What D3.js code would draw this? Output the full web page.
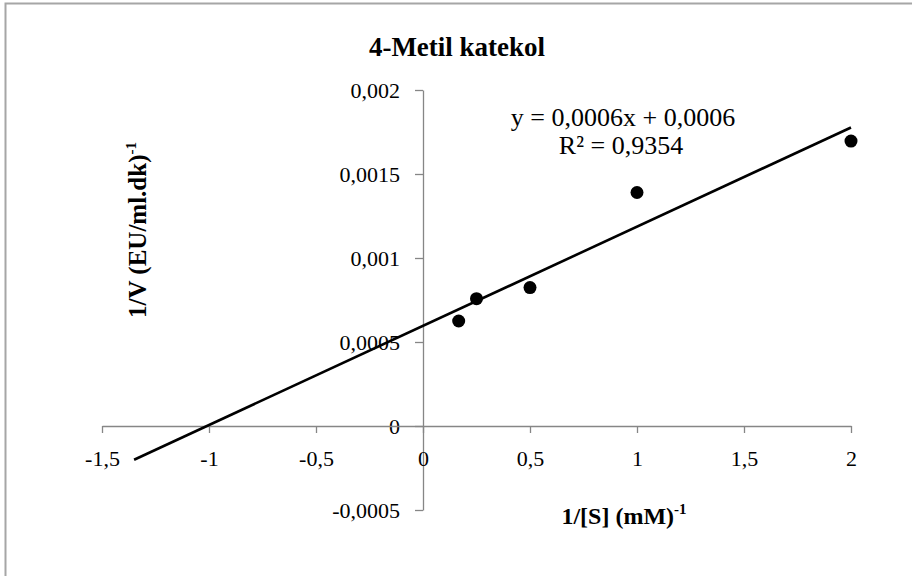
<!DOCTYPE html>
<html><head><meta charset="utf-8">
<script src="https://cdn.jsdelivr.net/npm/d3@7"></script>
<style>
body{margin:0;background:#fff;}
svg text{font-family:"Liberation Serif","Times New Roman",serif;fill:#000;}
</style></head>
<body><div id="chart"></div>
<script>
// Data
const xValues = [0.1667, 0.25, 0.5, 1, 2];
const yValues = [0.000625, 0.000758, 0.000824, 0.00139, 0.001696];
const xTicks = [-1.5, -1, -0.5, 0, 0.5, 1, 1.5, 2];
const yTicks = [-0.0005, 0, 0.0005, 0.001, 0.0015, 0.002];
const trendStart = -1.35;
const trendEnd = 2;
const title = "4-Metil katekol";
const eqLine1 = "y = 0,0006x + 0,0006";
const eqLine2 = "R² = 0,9354";
const xTitle = "1/[S] (mM)";
const yTitle = "1/V (EU/ml.dk)";
const titleSup = "-1";

const W = 912, H = 576;
const svg = d3.select("#chart").append("svg").attr("width", W).attr("height", H);

// chart border (extends beyond visible area on right/bottom)
svg.append("rect").attr("x", 5.5).attr("y", 3.5).attr("width", 960).attr("height", 620)
  .attr("fill", "none").attr("stroke", "#a6a6a6").attr("stroke-width", 2);

const x = d3.scaleLinear().domain([-1.5, 2]).range([102, 851]);
const y = d3.scaleLinear().domain([-0.0005, 0.002]).range([510, 90]);
const fmt = v => String(+v.toFixed(6)).replace(".", ",");
const axisColor = "#868686";

// Y axis at x=0
const gy = svg.append("g").attr("transform", `translate(${x(0)},0)`)
  .call(d3.axisLeft(y).tickValues(yTicks).tickSize(8).tickSizeOuter(0).tickFormat(fmt).tickPadding(15));
// X axis at y=0
const gx = svg.append("g").attr("transform", `translate(0,${y(0)})`)
  .call(d3.axisBottom(x).tickValues(xTicks).tickSize(7).tickSizeOuter(0).tickFormat(fmt).tickPadding(17));
[gx, gy].forEach(g => {
  g.select(".domain").attr("stroke", axisColor).attr("stroke-width", 1.3);
  g.selectAll(".tick line").attr("stroke", axisColor).attr("stroke-width", 1.3);
  g.selectAll(".tick text").attr("font-size", 22).attr("fill", "#000")
    .style("font-family", '"Liberation Serif","Times New Roman",serif');
});
gy.selectAll(".tick text").attr("dy", "0.32em");

// Trendline from least squares
const n = xValues.length;
const mx = d3.mean(xValues), my = d3.mean(yValues);
let sxy = 0, sxx = 0;
for (let i = 0; i < n; i++) { sxy += (xValues[i]-mx)*(yValues[i]-my); sxx += (xValues[i]-mx)**2; }
const slope = sxy/sxx, intercept = my - slope*mx;
const line = d3.line().x(d => x(d)).y(d => y(slope*d + intercept));
svg.append("path").datum([trendStart, trendEnd]).attr("d", line)
  .attr("stroke", "#000").attr("stroke-width", 2.6).attr("fill", "none");

// Points
svg.append("g").selectAll("circle").data(xValues).join("circle")
  .attr("cx", d => x(d)).attr("cy", (d, i) => y(yValues[i])).attr("r", 6.5).attr("fill", "#000");

// Title
svg.append("text").attr("x", 457).attr("y", 56).attr("text-anchor", "middle")
  .attr("font-size", 27).attr("font-weight", "bold").text(title);

// Equation
svg.append("text").attr("x", 623).attr("y", 126).attr("text-anchor", "middle").attr("font-size", 26).text(eqLine1);
svg.append("text").attr("x", 621).attr("y", 154).attr("text-anchor", "middle").attr("font-size", 26).text(eqLine2);

// X title
const xt = svg.append("text").attr("x", 624).attr("y", 524).attr("text-anchor", "middle")
  .attr("font-size", 24).attr("font-weight", "bold");
xt.append("tspan").text(xTitle);
xt.append("tspan").attr("font-size", 15).attr("dy", -10).text(titleSup);

// Y title
const yt = svg.append("text").attr("transform", "translate(146,230) rotate(-90)").attr("text-anchor", "middle")
  .attr("font-size", 25).attr("font-weight", "bold");
yt.append("tspan").text(yTitle);
yt.append("tspan").attr("font-size", 15).attr("dy", -10).text(titleSup);
</script></body></html>
